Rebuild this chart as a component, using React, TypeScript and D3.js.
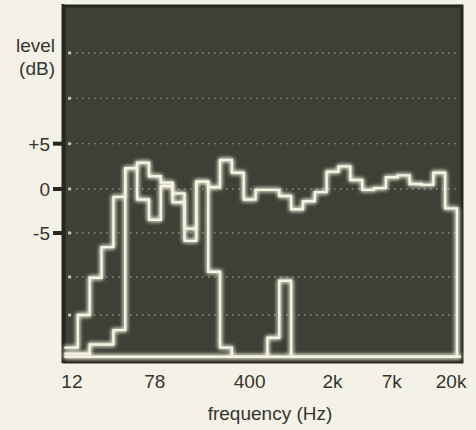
import React from "react";
import * as d3 from "d3";

// 1/3-octave analyser bands (index 0 = 12.5 Hz ... 32 = 20 kHz)
const BANDS = ["12.5","16","20","25","31.5","40","50","63","80","100","125","160","200","250","315","400","500","630","800","1k","1.25k","1.6k","2k","2.5k","3.15k","4k","5k","6.3k","8k","10k","12.5k","16k","20k"];

// level (dB) per band
const FULL_RANGE = [-20.1,-20.1,-18.9,-18.9,-17.0,2.3,2.9,1.4,0.7,-0.5,-4.5,0.8,0.2,3.2,1.8,-1.2,-0.1,-0.1,-0.8,-2.3,-1.4,-0.35,1.9,2.5,1.0,-0.1,0.1,1.3,1.5,0.55,0.45,1.8,-2.2];
const LOW_BAND = [-19.3,-15.0,-10.1,-6.6,-0.9,2.3,-1.2,-3.5,0.3,-1.5,-5.9,0.8,-9.4,-19.3,-20.5,-20.5,-20.5,-20.5,-20.5,-20.5,-20.5,-20.5,-20.5,-20.5,-20.5,-20.5,-20.5,-20.5,-20.5,-20.5,-20.5,-20.5,-20.5];
const MID_PEAK = [-20.5,-20.5,-20.5,-20.5,-20.5,-20.5,-20.5,-20.5,-20.5,-20.5,-20.5,-20.5,-20.5,-20.5,-20.5,-20.5,-20.5,-18.0,-10.5,-20.5,-20.5,-20.5,-20.5,-20.5,-20.5,-20.5,-20.5,-20.5,-20.5,-20.5,-20.5,-20.5,-20.5];
const FLOOR = -20.5;

const X_TICK_BANDS = ["12.5","63","400","2k","6.3k","20k"];
const X_TICK_LABELS = ["12","78","400","2k","7k","20k"];
const Y_TICKS = [5, 0, -5];
const Y_TICK_LABELS = ["+5", "0", "-5"];
const GRID_LEVELS = [15, 10, 5, 0, -5, -10, -15];

const W = 476, H = 430;
const FONT = "'Liberation Sans', Arial, Helvetica, sans-serif";
const INK = "#35352f";

export default function App() {
  const x = d3.scaleLinear().domain([0, BANDS.length]).range([66, 457]);
  const y = d3.scaleLinear().domain([-21.2, -15, -10, 0, 15, 20.3]).range([362, 315, 277, 189, 53, 5]);
  const frame = { x0: 64, x1: 462, y0: 6, y1: 362 };

  const line = d3.line<[number, number]>()
    .x(d => x(d[0]))
    .y(d => y(d[1]))
    .curve(d3.curveStepAfter);

  const mkPts = (vals: number[], dropEnd: boolean): [number, number][] => {
    const pts: [number, number][] = vals.map((v, i) => [i, v] as [number, number]);
    pts.unshift([-0.15, vals[0]]);
    pts.push([vals.length, vals[vals.length - 1]]);
    if (dropEnd) pts.push([vals.length, FLOOR]);
    else pts.push([vals.length + 0.3, vals[vals.length - 1]]);
    return pts;
  };

  const series = [
    mkPts(MID_PEAK, false),
    mkPts(LOW_BAND, false),
    mkPts(FULL_RANGE, true),
  ];

  const bandCenter = (b: string) => x(BANDS.indexOf(b) + 0.5);

  return (
    <svg width={W} height={H} style={{ position: "absolute", left: 0, top: 0, display: "block" }}>
      <defs>
        <filter id="glow" x="-10%" y="-10%" width="120%" height="120%">
          <feGaussianBlur stdDeviation="2" result="b" />
          <feMerge>
            <feMergeNode in="b" />
            <feMergeNode in="b" />
            <feMergeNode in="SourceGraphic" />
          </feMerge>
        </filter>
      </defs>
      <rect x={0} y={0} width={W} height={H} fill="#f4f1e7" />
      {/* screen */}
      <rect x={frame.x0} y={frame.y0} width={frame.x1 - frame.x0} height={frame.y1 - frame.y0}
        fill="#3c4036" stroke="#26271f" strokeWidth={3} />
      <line x1={frame.x0 - 1} x2={frame.x0 - 1} y1={frame.y0 - 2} y2={frame.y1 + 1} stroke="#26271f" strokeWidth={3} />
      {/* grid */}
      {GRID_LEVELS.map(g => (
        <g key={g}>
          <line x1={frame.x0 + 6} x2={frame.x1 - 2} y1={y(g)} y2={y(g)}
            stroke="#cfcfbf" strokeWidth={1.3} strokeDasharray="1.5 4.5" opacity={0.55} />
          <rect x={frame.x0 + 4} y={y(g) - 1.5} width={3} height={3} fill="#d8d8c8" opacity={0.8} />
        </g>
      ))}
      {/* traces */}
      <g filter="url(#glow)">
        {series.map((pts, i) => (
          <path key={i} d={line(pts) || ""} fill="none" stroke="#f4f2e0" strokeWidth={2.4}
            strokeLinejoin="miter" />
        ))}
      </g>
      {/* y ticks */}
      {Y_TICKS.map((t, i) => (
        <g key={t}>
          <rect x={53} y={y(t) - 2} width={11} height={4} fill="#26271f" />
          <text x={50} y={y(t) + 7} textAnchor="end" fontFamily={FONT} fontSize={19} fill={INK}>
            {Y_TICK_LABELS[i]}
          </text>
        </g>
      ))}
      <text x={55} y={52} textAnchor="end" fontFamily={FONT} fontSize={19} fill={INK}>level</text>
      <text x={55} y={75} textAnchor="end" fontFamily={FONT} fontSize={19} fill={INK}>(dB)</text>
      {/* x ticks */}
      {X_TICK_BANDS.map((b, i) => (
        <text key={b} x={bandCenter(b)} y={388} textAnchor="middle" fontFamily={FONT} fontSize={19} fill={INK}>
          {X_TICK_LABELS[i]}
        </text>
      ))}
      <text x={270} y={420} textAnchor="middle" fontFamily={FONT} fontSize={19} fill={INK}>frequency (Hz)</text>
    </svg>
  );
}
